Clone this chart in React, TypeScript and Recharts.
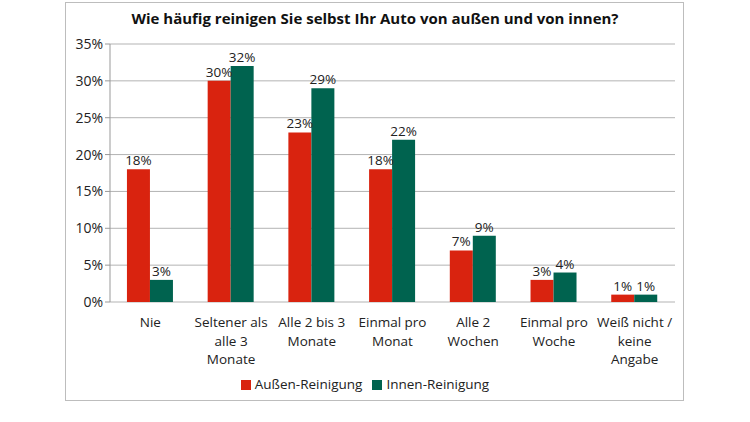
import React from "react";
import { BarChart, Bar, XAxis, YAxis, CartesianGrid, Legend, LabelList } from "recharts";

const categories = [
  "Nie",
  "Seltener als alle 3 Monate",
  "Alle 2 bis 3 Monate",
  "Einmal pro Monat",
  "Alle 2 Wochen",
  "Einmal pro Woche",
  "Weiß nicht / keine Angabe",
];
const tickLines = [
  ["Nie"],
  ["Seltener als", "alle 3", "Monate"],
  ["Alle 2 bis 3", "Monate"],
  ["Einmal pro", "Monat"],
  ["Alle 2", "Wochen"],
  ["Einmal pro", "Woche"],
  ["Weiß nicht /", "keine", "Angabe"],
];
const aussen = [18, 30, 23, 18, 7, 3, 1];
const innen = [3, 32, 29, 22, 9, 4, 1];
const yTicks = [0, 5, 10, 15, 20, 25, 30, 35];
const boundaries = [0, 1, 2, 3, 4, 5, 6, 7];

const RED = "#D9230F";
const GREEN = "#00634F";
const FONT = "'Open Sans', sans-serif";

const data = categories.map((name, i) => ({ name, idx: i, aussen: aussen[i], innen: innen[i] }));

const CategoryTick = (props: any) => {
  const { x, y, payload } = props;
  const lines = tickLines[payload.index] || [payload.value];
  return (
    <text x={x} y={y} textAnchor="middle" fontFamily={FONT} fontSize={13.5} fill="#222">
      {lines.map((l, i) => (
        <tspan key={i} x={x} dy={i === 0 ? 17 : 18.5}>
          {l}
        </tspan>
      ))}
    </text>
  );
};

export default function App() {
  return (
    <div style={{ position: "absolute", left: 0, top: 0, width: 750, height: 422, background: "#fff" }}>
      <div
        style={{
          position: "absolute",
          left: 65,
          top: 2,
          width: 619,
          height: 399,
          border: "1px solid #bdbdbd",
          boxSizing: "border-box",
        }}
      />
      <div
        style={{
          position: "absolute",
          left: 0,
          top: 8,
          width: 750,
          textAlign: "center",
          fontFamily: FONT,
          fontWeight: 700,
          fontSize: 15,
          color: "#111",
        }}
      >
        Wie häufig reinigen Sie selbst Ihr Auto von außen und von innen?
      </div>
      <BarChart
        width={750}
        height={422}
        data={data}
        margin={{ top: 44, right: 75, left: 65, bottom: 30 }}
        barCategoryGap="21%"
        barGap={0}
        style={{ position: "absolute", left: 0, top: 0 }}
      >
        <CartesianGrid vertical={false} stroke="#b3b3b3" />
        <XAxis
          xAxisId="b"
          dataKey="idx"
          type="number"
          domain={[0, 7]}
          ticks={boundaries}
          height={0}
          tick={false}
          tickSize={5}
          stroke="#999"
          allowDataOverflow
        />
        <XAxis
          xAxisId="c"
          dataKey="name"
          height={70}
          axisLine={false}
          tickLine={false}
          interval={0}
          tick={<CategoryTick />}
        />
        <YAxis
          width={45}
          domain={[0, 35]}
          ticks={yTicks}
          tickFormatter={(v: number) => `${v}%`}
          stroke="#999"
          tickSize={5}
          tick={{ fontFamily: FONT, fontSize: 14, fill: "#222" }}
          interval={0}
        />
        <Legend
          verticalAlign="bottom"
          iconType="square"
          iconSize={10}
          height={20}
          wrapperStyle={{ fontFamily: FONT, fontSize: 13.5, bottom: 27 }}
          formatter={(v: string) => <span style={{ color: "#222" }}>{v}</span>}
        />
        <Bar xAxisId="c" dataKey="aussen" name="Außen-Reinigung" fill={RED} isAnimationActive={false}>
          <LabelList dataKey="aussen" position="top" offset={4} formatter={(v: number) => `${v}%`} style={{ fontFamily: FONT, fontSize: 13.5, fill: "#222" }} />
        </Bar>
        <Bar xAxisId="c" dataKey="innen" name="Innen-Reinigung" fill={GREEN} isAnimationActive={false}>
          <LabelList dataKey="innen" position="top" offset={4} formatter={(v: number) => `${v}%`} style={{ fontFamily: FONT, fontSize: 13.5, fill: "#222" }} />
        </Bar>
      </BarChart>
    </div>
  );
}
